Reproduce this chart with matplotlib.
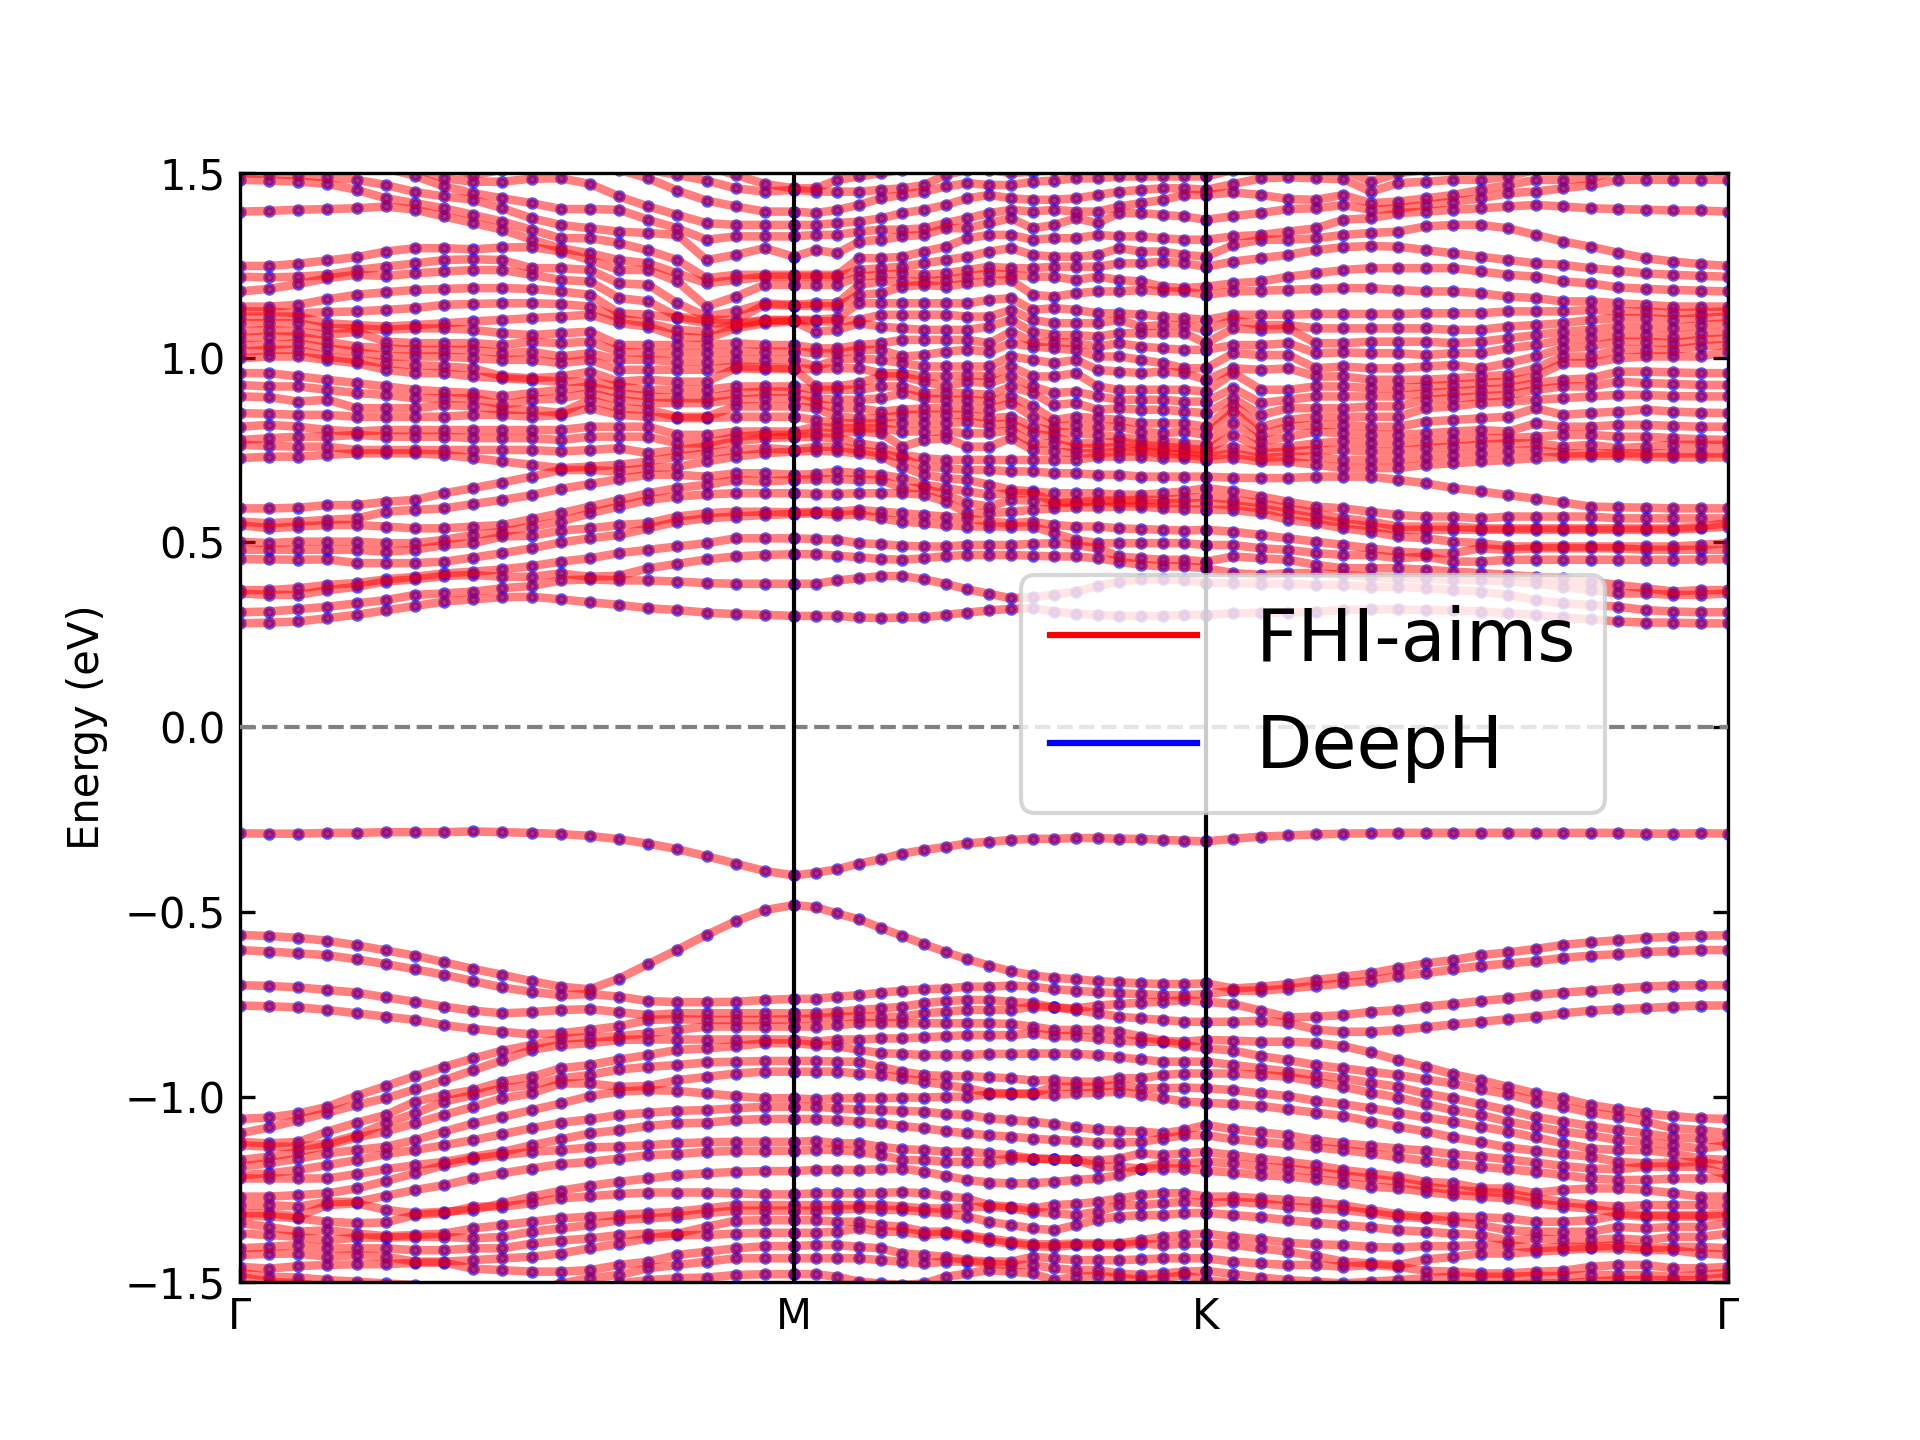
import matplotlib
matplotlib.use('Agg')
import matplotlib.pyplot as plt
import numpy as np
from matplotlib.lines import Line2D

# High symmetry points along the path
hsym_pos = [0.0, 0.3723, 0.6492, 1.0]
hsym_labels = ['Γ', 'M', 'K', 'Γ']
n_seg = 20  # k-points per segment

# Valence bands, meV below the Fermi level. Gamma-M, one row per band
val_gm = [
    [287,288,288,286,286,284,284,284,282,284,286,289,294,303,315,330,349,369,389,401],
    [562,565,570,578,590,604,618,636,654,670,687,702,709,680,641,602,562,525,495,481],
    [603,607,612,617,628,641,655,670,687,704,716,725,722,729,741,744,744,743,738,735],
    [698,700,704,711,718,731,743,756,767,774,771,765,763,771,779,774,774,774,774,774],
    [753,755,758,765,774,783,792,806,816,824,831,828,819,809,792,790,792,792,792,790],
    [1060,1056,1045,1027,997,971,944,919,896,875,860,842,839,836,828,819,810,810,810,810],
    [1099,1083,1063,1043,1022,1004,980,955,928,901,873,860,855,846,845,845,845,845,845,845],
    [1122,1126,1122,1094,1070,1049,1013,995,982,959,946,923,914,899,887,873,869,863,855,855],
    [1131,1135,1135,1126,1104,1072,1045,1013,995,977,968,950,941,926,919,914,907,905,903,903],
    [1171,1162,1149,1131,1110,1094,1072,1049,1027,1004,991,964,964,973,971,955,946,937,932,932],
    [1189,1180,1167,1153,1144,1135,1117,1094,1072,1054,1036,1018,998,986,982,984,991,998,1004,1004],
    [1212,1207,1198,1185,1171,1155,1144,1131,1117,1101,1085,1070,1061,1049,1043,1038,1036,1031,1027,1027],
    [1221,1221,1221,1221,1209,1196,1185,1176,1162,1149,1131,1115,1099,1090,1079,1072,1070,1063,1060,1060],
    [1270,1270,1266,1261,1248,1228,1207,1185,1168,1158,1149,1144,1137,1135,1131,1126,1123,1122,1122,1122],
    [1293,1293,1297,1284,1284,1268,1252,1239,1221,1207,1194,1182,1176,1167,1158,1155,1149,1146,1146,1146],
    [1315,1315,1324,1293,1288,1306,1315,1311,1306,1288,1270,1254,1241,1230,1221,1212,1207,1203,1201,1201],
    [1323,1323,1329,1338,1342,1340,1320,1315,1297,1297,1288,1275,1269,1263,1259,1259,1259,1261,1264,1264],
    [1342,1352,1365,1361,1370,1377,1374,1370,1356,1347,1338,1329,1324,1320,1315,1311,1302,1293,1293,1293],
    [1370,1374,1379,1388,1381,1381,1379,1379,1383,1379,1365,1356,1347,1334,1329,1324,1315,1308,1308,1308],
    [1410,1406,1401,1410,1410,1410,1415,1415,1410,1410,1397,1389,1383,1374,1370,1370,1352,1335,1334,1334],
    [1428,1425,1424,1433,1428,1433,1446,1446,1442,1437,1433,1424,1410,1397,1383,1374,1374,1370,1368,1368],
    [1460,1465,1458,1455,1453,1453,1449,1449,1465,1469,1473,1473,1469,1455,1446,1428,1419,1410,1404,1404],
    [1476,1487,1489,1496,1500,1505,1509,1514,1523,1527,1523,1505,1491,1482,1464,1455,1446,1437,1437,1437],
    [1487,1500,1505,1514,1523,1532,1541,1550,1559,1568,1568,1550,1532,1505,1496,1491,1489,1482,1480,1480],
]

# M-K: two top bands as rows, the remaining ones listed per k-point
val_mk_top = [
    [401,394,384,369,357,342,332,324,314,310,305,302,302,300,300,302,302,305,307,309],
    [481,487,504,520,543,565,587,608,628,645,660,671,678,682,687,690,693,695,695,693],
]
val_mk_cols = [
    [735,774,790,810,845,855,903,932,1004,1027,1060,1122,1146,1201,1264,1293,1308,1334,1368,1404,1437,1480],
    [735,774,788,810,851,860,903,932,1007,1027,1060,1119,1144,1198,1261,1293,1308,1334,1368,1401,1437,1480],
    [729,770,783,806,845,863,905,932,1004,1031,1063,1126,1144,1198,1261,1293,1306,1338,1365,1401,1437,1487],
    [725,765,783,801,845,873,905,937,1004,1034,1067,1126,1149,1198,1261,1293,1302,1338,1356,1406,1437,1500],
    [718,761,783,801,842,882,919,941,1004,1036,1072,1135,1158,1196,1260,1293,1306,1347,1365,1410,1442,1505],
    [713,756,783,801,842,884,932,950,1002,1038,1079,1142,1171,1194,1258,1297,1306,1352,1365,1424,1446,1509],
    [709,747,774,801,839,887,941,959,1002,1040,1085,1144,1171,1203,1261,1302,1311,1365,1374,1428,1451,1505],
    [707,741,770,801,836,887,944,968,1000,1047,1093,1149,1176,1214,1269,1302,1315,1365,1370,1433,1446,1487],
    [702,738,765,801,833,887,944,977,1000,1049,1099,1149,1176,1225,1275,1299,1324,1374,1379,1442,1446,1478],
    [702,738,765,801,833,884,947,989,993,1058,1104,1153,1176,1232,1293,1297,1338,1383,1390,1446,1451,1469],
    [699,743,765,803,833,884,950,991,993,1063,1108,1158,1167,1234,1297,1302,1347,1392,1397,1446,1455,1473],
    [702,747,756,810,828,883,956,991,993,1067,1113,1167,1167,1234,1302,1311,1356,1399,1404,1433,1455,1478],
    [709,758,758,819,836,883,955,973,995,1074,1117,1169,1169,1230,1293,1315,1361,1399,1406,1437,1464,1496],
    [713,761,765,819,836,884,959,973,991,1083,1119,1171,1171,1225,1290,1320,1347,1397,1401,1442,1469,1487],
    [717,753,774,819,842,887,959,973,989,1088,1124,1173,1189,1221,1284,1311,1332,1397,1401,1442,1469,1485],
    [720,749,783,824,848,893,950,968,986,1092,1124,1167,1189,1212,1275,1293,1324,1397,1401,1442,1478,1489],
    [722,745,788,837,851,899,950,977,995,1094,1122,1153,1194,1194,1266,1293,1320,1388,1397,1440,1482,1496],
    [725,743,792,848,851,905,941,977,1004,1099,1113,1158,1180,1194,1261,1288,1320,1379,1401,1437,1478,1491],
    [725,738,797,851,860,905,937,975,1013,1090,1104,1153,1180,1194,1261,1284,1315,1374,1397,1437,1473,1482],
    [722,743,797,846,869,905,937,977,1016,1076,1104,1149,1176,1200,1270,1288,1314,1370,1397,1437,1471,1496],
]

# K-Gamma
val_kg_top = [[309,302,296,293,290,288,287,286,286,286,286,286,286,286,286,286,288,288,287,288]]
val_kg_cols = [
    [693,722,743,797,846,869,905,937,977,1016,1076,1104,1149,1176,1200,1270,1288,1314,1370,1397,1437,1471,1496],
    [707,713,749,797,848,875,914,937,982,1020,1088,1115,1158,1180,1205,1270,1284,1320,1379,1401,1446,1480,1505],
    [702,713,767,794,851,890,923,941,991,1025,1096,1122,1167,1189,1212,1275,1288,1326,1386,1410,1451,1489,1514],
    [695,707,785,800,851,901,932,946,998,1034,1104,1129,1176,1194,1216,1279,1297,1334,1395,1419,1455,1496,1523],
    [684,700,783,818,854,914,941,959,1011,1043,1117,1137,1185,1203,1223,1284,1302,1341,1399,1431,1455,1500,1527],
    [675,693,779,824,863,923,950,973,1020,1052,1126,1144,1198,1212,1232,1293,1306,1347,1401,1446,1460,1505,1532],
    [666,686,770,824,880,932,962,989,1031,1067,1133,1153,1207,1221,1243,1306,1315,1353,1406,1451,1455,1500,1532],
    [652,673,765,819,901,941,973,1002,1043,1081,1140,1164,1216,1230,1248,1318,1324,1361,1408,1455,1460,1496,1527],
    [639,666,756,812,919,953,991,1020,1056,1094,1146,1173,1230,1243,1257,1324,1329,1365,1404,1440,1471,1491,1523],
    [630,655,749,804,939,964,1004,1036,1067,1110,1155,1182,1234,1252,1266,1324,1338,1370,1404,1433,1473,1487,1518],
    [617,646,741,797,955,980,1020,1049,1081,1123,1162,1189,1248,1257,1270,1326,1347,1374,1401,1424,1478,1487,1514],
    [609,639,734,790,973,993,1036,1067,1094,1137,1169,1196,1248,1261,1275,1329,1361,1389,1401,1424,1478,1487,1509],
    [600,633,725,783,991,1013,1054,1081,1110,1146,1178,1203,1260,1275,1288,1338,1365,1383,1410,1419,1473,1485,1505],
    [589,624,718,774,1004,1027,1067,1094,1126,1155,1187,1212,1252,1284,1297,1338,1365,1388,1406,1415,1471,1485,1505],
    [582,618,713,767,1022,1043,1079,1104,1140,1162,1194,1221,1248,1293,1302,1334,1365,1388,1406,1410,1460,1482,1500],
    [576,614,707,763,1034,1054,1090,1117,1144,1176,1196,1225,1248,1297,1315,1320,1352,1383,1401,1410,1455,1482,1496],
    [570,608,702,760,1045,1067,1099,1122,1144,1180,1189,1225,1252,1293,1320,1324,1356,1388,1410,1415,1455,1482,1496],
    [567,606,699,756,1052,1085,1110,1131,1153,1178,1189,1221,1261,1293,1320,1324,1352,1379,1406,1415,1464,1487,1496],
    [564,603,698,753,1058,1090,1113,1140,1167,1176,1189,1221,1270,1293,1320,1324,1352,1379,1406,1424,1464,1482,1496],
    [563,603,698,753,1060,1099,1122,1131,1171,1189,1212,1221,1270,1293,1315,1323,1342,1370,1410,1428,1460,1476,1487],
]

# Lowest conduction bands, meV above the Fermi level, one row per band
cond_gm = [
    [281,283,286,295,304,316,328,340,346,352,353,346,338,331,322,317,310,306,304,301],
    [311,313,319,326,335,344,358,362,367,376,382,397,400,397,397,394,390,388,388,388],
    [362,358,358,371,380,394,400,409,412,407,407,416,407,410,430,442,454,462,466,468],
    [371,371,376,385,390,400,407,416,421,427,436,448,457,471,480,489,498,511,511,511],
    [455,454,453,454,444,444,444,448,459,471,484,500,511,520,538,556,565,570,574,577],
    [480,480,480,480,480,475,480,493,498,516,518,532,538,547,552,570,579,583,583,581],
    [502,498,502,502,502,498,498,507,520,529,543,556,579,597,615,624,630,633,633,633],
    [547,538,543,547,547,543,538,538,543,547,563,579,597,615,633,647,656,669,665,669],
    [556,552,556,561,565,583,588,592,604,615,628,645,658,671,683,683,678,687,687,683],
    [592,592,594,601,601,610,615,633,647,662,678,696,696,692,701,705,719,732,741,746],
    [728,732,732,737,741,741,741,737,728,719,710,701,705,710,719,732,741,750,755,750],
    [764,761,759,759,750,750,750,750,750,750,750,746,750,755,741,750,759,773,782,785],
]
cond_mk = [
    [301,301,301,297,295,297,297,304,310,316,320,322,313,307,304,301,301,301,304,304],
    [388,388,397,403,409,409,400,388,373,361,349,352,358,367,382,394,400,400,397,391],
    [468,468,464,460,455,453,457,463,466,466,466,464,462,462,457,448,439,435,435,430],
    [511,509,507,498,495,491,489,489,493,493,493,496,498,493,484,462,457,453,453,448],
    [577,579,574,576,565,556,552,547,543,543,543,543,525,507,498,498,498,498,498,493],
    [581,583,583,588,583,579,574,570,565,556,552,556,547,543,543,538,536,534,532,534],
    [633,631,631,633,633,633,629,610,579,579,583,588,592,595,595,597,597,592,590,588],
    [669,671,671,669,669,647,647,629,606,597,615,613,606,608,610,608,606,606,606,606],
    [683,685,692,687,683,674,656,647,638,629,633,633,610,610,613,613,615,615,619,624],
    [746,748,746,741,732,705,683,674,669,656,642,638,633,633,633,629,629,633,638,647],
    [750,759,759,750,741,728,705,701,696,696,692,692,687,687,683,683,678,678,678,678],
    [785,785,782,768,759,737,728,723,723,723,723,723,723,723,732,732,732,728,728,723],
]
cond_kg = [
    [304,308,310,310,313,317,319,319,317,316,313,308,304,297,292,286,283,283,281,281],
    [391,390,388,388,385,385,380,380,376,371,367,358,344,335,331,326,317,313,311,311],
    [430,417,412,417,417,412,407,403,403,398,398,394,389,380,371,362,362,358,358,362],
    [448,462,457,453,439,430,430,430,426,421,417,412,407,403,394,385,376,367,371,371],
    [493,493,484,480,471,466,466,457,462,448,448,453,453,453,453,453,453,453,454,455],
    [534,529,520,511,502,493,484,475,471,471,484,480,484,484,484,484,480,480,480,480],
    [588,588,579,561,552,538,529,516,511,502,498,489,489,489,489,489,489,489,493,498],
    [606,601,592,579,565,552,543,534,534,534,534,534,534,534,534,534,534,534,538,543],
    [624,615,606,592,579,565,556,543,543,543,538,538,538,538,538,538,538,538,543,552],
    [647,638,624,610,597,592,583,574,570,570,565,570,570,570,570,565,565,565,565,565],
    [678,675,674,674,678,678,678,669,660,647,638,628,618,608,597,595,594,592,592,592],
]

# Upper conduction bands on Gamma-M, highest band first
upper_gm_top = [
    [1760,1742,1724,1706,1688,1670,1652,1634,1616,1598,1585,1571,1562,1553,1544,1535,1517,1494,1470,1458],
    [1706,1688,1670,1652,1634,1616,1598,1585,1571,1562,1553,1544,1535,1521,1508,1494,1479,1458,1449,1454],
    [1625,1616,1607,1598,1589,1580,1571,1517,1494,1508,1526,1540,1526,1508,1485,1452,1425,1409,1395,1395],
    [1598,1585,1571,1562,1549,1535,1512,1485,1476,1476,1484,1485,1470,1436,1409,1386,1364,1359,1359,1359],
    [1549,1544,1540,1535,1526,1512,1492,1463,1445,1431,1418,1402,1402,1400,1373,1350,1319,1328,1328,1328],
    [1499,1497,1494,1488,1481,1467,1448,1436,1427,1404,1377,1359,1350,1341,1337,1332,1264,1278,1296,1273],
    [1481,1479,1476,1470,1454,1431,1418,1404,1386,1368,1346,1323,1323,1310,1290,1264,1215,1224,1224,1224],
    [1395,1397,1400,1402,1404,1409,1400,1382,1364,1346,1319,1296,1282,1264,1255,1228,1201,1210,1219,1219],
    [1248,1248,1254,1263,1272,1287,1296,1296,1293,1298,1299,1287,1264,1237,1237,1206,1138,1165,1197,1197],
    [1219,1217,1219,1224,1237,1246,1255,1264,1266,1264,1242,1242,1237,1201,1197,1147,1111,1125,1147,1143],
    [1179,1186,1199,1215,1224,1221,1228,1233,1237,1237,1224,1210,1206,1161,1152,1111,1102,1102,1143,1140],
]
# The dense bundle below them, listed per k-point
upper_gm_cols = [
    [1138,1125,1111,1093,1070,1052,1034,1016,998,958,926,895,850,813,777],
    [1138,1125,1111,1093,1075,1057,1034,1021,1003,958,922,893,848,818,782],
    [1143,1120,1111,1093,1070,1057,1039,1021,1003,949,922,881,845,813,786],
    [1158,1123,1093,1079,1061,1043,1025,1003,994,940,913,886,845,804,786],
    [1170,1125,1088,1079,1070,1030,1016,994,985,931,904,863,840,800,791],
    [1177,1129,1084,1075,1043,1025,1003,985,967,922,899,863,840,804,786],
    [1183,1134,1088,1079,1039,1021,1003,980,958,913,890,863,840,804,786],
    [1186,1143,1093,1079,1039,1021,1003,976,958,908,890,872,840,804,786],
    [1188,1145,1098,1075,1039,1021,998,971,949,904,890,868,845,804,782],
    [1188,1147,1102,1066,1034,1012,994,949,944,895,872,859,845,804,782],
    [1186,1147,1107,1061,1043,1016,994,944,940,904,886,859,840,804,782],
    [1179,1145,1111,1066,1039,1003,985,949,935,913,890,850,845,804,777],
    [1170,1138,1116,1070,1043,1012,994,962,935,922,904,886,863,813,786],
    [1120,1107,1093,1034,1016,994,967,935,922,904,886,863,845,813,786],
    [1116,1093,1084,1034,1012,994,967,940,913,895,877,859,840,813,786],
    [1107,1075,1057,1034,1012,989,967,935,913,890,877,840,836,791,768],
    [1093,1070,1052,1034,1012,989,967,935,913,890,877,840,836,791,768],
    [1093,1088,1079,1039,1016,994,976,971,922,904,886,868,840,800,786],
    [1102,1100,1093,1034,1016,994,974,969,922,908,890,868,840,800,791],
    [1102,1100,1098,1034,1016,994,971,969,922,908,890,868,840,800,791],
]
# M-K and K-Gamma, per k-point, highest band first
upper_mk_cols = [
    [1458,1454,1395,1359,1328,1273,1224,1219,1197,1143,1140,1102,1100,1098,1034,1016,994,971,969,922,908,890,868,840,800,791],
    [1458,1449,1391,1359,1332,1291,1224,1219,1197,1147,1140,1102,1098,1070,1025,1012,976,969,922,913,890,877,863,831,813,797],
    [1481,1449,1400,1364,1332,1282,1224,1219,1197,1147,1138,1107,1098,1075,1025,1012,994,971,922,913,886,863,840,822,809,795],
    [1490,1449,1413,1368,1341,1314,1269,1237,1219,1197,1170,1147,1102,1093,1034,1021,998,971,931,913,886,863,836,822,809,800],
    [1499,1454,1431,1377,1346,1319,1269,1242,1224,1206,1174,1147,1116,1084,1039,1021,994,958,949,922,890,854,836,822,809,795],
    [1508,1458,1440,1391,1346,1328,1273,1246,1228,1206,1192,1147,1116,1079,1048,1003,985,958,949,922,904,859,845,822,800,759],
    [1517,1467,1449,1400,1350,1332,1287,1255,1224,1206,1197,1147,1116,1075,1048,1007,976,949,935,904,890,863,845,822,800,777],
    [1530,1494,1463,1413,1364,1350,1300,1264,1228,1210,1192,1147,1116,1075,1048,1016,976,949,922,904,886,863,845,822,800,782],
    [1544,1508,1472,1431,1377,1350,1323,1273,1237,1219,1201,1147,1111,1075,1048,1021,976,953,935,904,886,863,845,827,795,759],
    [1549,1508,1467,1440,1391,1364,1332,1287,1246,1228,1206,1156,1111,1084,1039,1016,976,949,931,899,881,859,836,818,795,759],
    [1553,1499,1467,1431,1400,1377,1332,1296,1242,1224,1210,1161,1129,1102,1070,1039,1003,976,949,922,895,877,840,822,804,782],
    [1558,1503,1476,1427,1395,1350,1319,1278,1242,1219,1170,1129,1102,1070,1043,1030,994,949,922,904,868,840,813,795,768,750],
    [1558,1508,1479,1427,1400,1359,1323,1273,1246,1219,1165,1134,1093,1061,1043,1025,985,949,904,872,831,813,800,786,768,746],
    [1558,1508,1485,1431,1395,1377,1323,1273,1246,1210,1174,1129,1093,1061,1039,1021,994,958,908,877,840,818,795,768,755,741],
    [1558,1512,1485,1440,1395,1364,1332,1278,1246,1219,1179,1120,1093,1057,1030,1003,967,922,895,859,836,813,791,768,755,741],
    [1558,1517,1490,1449,1409,1391,1328,1296,1255,1210,1179,1120,1102,1066,1039,1003,962,913,886,863,831,813,786,773,759,746],
    [1558,1517,1490,1454,1418,1391,1328,1287,1255,1206,1183,1116,1084,1066,1030,994,958,913,886,859,822,800,777,764,755,746],
    [1558,1521,1490,1458,1427,1386,1323,1287,1260,1192,1179,1111,1088,1066,1025,985,962,913,886,859,822,795,773,759,750,741],
    [1558,1521,1490,1458,1440,1382,1319,1278,1255,1188,1179,1107,1088,1066,1021,971,958,913,881,854,822,800,768,755,746,737],
    [1558,1526,1490,1454,1440,1373,1319,1273,1246,1192,1170,1102,1075,1039,1021,971,940,908,881,850,813,791,764,750,741,732],
]
upper_kg_cols = [
    [1558,1526,1490,1454,1440,1373,1319,1273,1246,1192,1170,1102,1075,1039,1021,971,940,908,881,850,813,791,764,750,741,732,723],
    [1553,1530,1508,1470,1447,1383,1328,1305,1260,1201,1179,1116,1102,1079,1034,1012,971,958,917,890,872,854,822,791,759,741,728],
    [1567,1535,1512,1485,1440,1391,1332,1319,1269,1206,1181,1116,1088,1075,1034,1007,967,913,877,845,813,791,773,755,741,728,719],
    [1567,1540,1517,1488,1429,1402,1341,1319,1278,1219,1183,1116,1088,1079,1039,1007,971,913,886,863,831,813,786,759,746,732,719],
    [1567,1544,1521,1485,1427,1404,1350,1323,1291,1228,1186,1118,1079,1039,1012,971,949,922,895,863,840,818,800,768,750,732,710],
    [1567,1549,1508,1483,1440,1413,1373,1332,1299,1237,1188,1118,1079,1039,1014,976,949,922,895,863,840,818,795,773,750,723,701],
    [1567,1553,1476,1449,1418,1400,1377,1337,1302,1242,1188,1118,1079,1043,1012,971,940,917,895,868,840,813,791,768,746,723,701],
    [1567,1558,1499,1472,1422,1404,1391,1341,1300,1242,1183,1118,1079,1043,1012,971,940,917,895,868,840,813,791,768,746,723,701],
    [1567,1562,1508,1476,1431,1413,1395,1355,1291,1242,1179,1120,1079,1043,1007,976,940,922,904,886,863,827,795,773,755,732,710],
    [1567,1562,1512,1481,1440,1422,1400,1359,1282,1242,1179,1120,1075,1039,1012,980,944,926,908,890,868,831,800,777,759,737,714],
    [1567,1562,1517,1481,1454,1431,1404,1359,1273,1233,1174,1120,1075,1043,1012,971,949,931,913,895,877,836,804,782,764,741,719],
    [1567,1558,1521,1490,1467,1445,1409,1350,1264,1224,1165,1125,1084,1052,1025,985,953,935,917,899,881,840,800,782,768,746,723],
    [1567,1558,1526,1508,1481,1449,1413,1332,1255,1219,1161,1125,1088,1061,1034,1003,971,949,931,913,886,863,822,786,768,750,728],
    [1567,1558,1535,1517,1481,1458,1409,1314,1251,1206,1152,1125,1093,1070,1048,1025,1003,985,940,922,890,845,813,791,759,741,732],
    [1567,1558,1540,1521,1485,1467,1404,1300,1242,1201,1152,1129,1102,1075,1052,1030,1003,985,944,922,895,850,813,791,764,741,734],
    [1567,1558,1544,1530,1508,1481,1402,1284,1235,1190,1147,1125,1107,1084,1061,1043,1021,998,962,935,899,854,818,786,755,741,734],
    [1567,1558,1549,1535,1508,1481,1400,1269,1228,1186,1143,1125,1107,1084,1061,1043,1021,1003,962,931,899,859,818,786,759,741,732],
    [1567,1558,1553,1544,1517,1481,1398,1260,1224,1183,1138,1120,1102,1079,1057,1039,1021,1003,960,929,896,854,815,782,764,741,730],
    [1567,1562,1558,1549,1526,1481,1398,1253,1221,1181,1138,1122,1107,1088,1066,1048,1030,1003,958,926,895,851,813,779,764,741,730],
    [1585,1580,1571,1562,1535,1481,1395,1248,1219,1179,1138,1125,1111,1093,1070,1052,1034,1016,958,926,895,850,813,777,764,741,730],
]

# k-axis, one run of points per segment with the end points repeated
k_path = np.concatenate([
    np.linspace(hsym_pos[i], hsym_pos[i + 1], n_seg) for i in range(3)
])

# Assemble valence bands (energies below the Fermi level are negative)
valence = -np.hstack([
    np.array(val_gm),
    np.vstack([val_mk_top, np.array(val_mk_cols).T]),
    np.vstack([val_kg_top, np.array(val_kg_cols).T]),
]) / 1000.0

# Assemble conduction bands from the bottom up
upper_gm = np.vstack([upper_gm_top, np.array(upper_gm_cols).T])[::-1]
upper_mk = np.array(upper_mk_cols).T[::-1]
upper_kg = np.array(upper_kg_cols).T[::-1]
conduction = np.hstack([
    np.vstack([cond_gm, upper_gm]),
    np.vstack([cond_mk, upper_mk]),
    np.vstack([cond_kg, upper_kg]),
]) / 1000.0

bands = np.vstack([valence, conduction])

fig, ax = plt.subplots(figsize=(6.4, 4.8))

# DeepH eigenvalues as dots, FHI-aims bands as thick translucent lines on top
for band in bands:
    ax.plot(k_path, band, 'o', color='blue', ms=2, alpha=0.65, zorder=2)
for band in bands:
    ax.plot(k_path, band, color='red', lw=2.05, alpha=0.5, zorder=2.5)

ax.axhline(0, color='gray', ls='--', lw=1, zorder=3)
for pos in hsym_pos[1:-1]:
    ax.axvline(pos, color='black', lw=1, zorder=3)

ax.set_xlim(0, 1)
ax.set_ylim(-1.5, 1.5)
ax.set_xticks(hsym_pos)
ax.set_xticklabels(hsym_labels)
ax.set_yticks([-1.5, -1.0, -0.5, 0.0, 0.5, 1.0, 1.5])
ax.tick_params(direction='in', right=True)
ax.set_ylabel('Energy (eV)')

handles = [Line2D([], [], color='red', lw=1.5, label='FHI-aims'),
           Line2D([], [], color='blue', lw=1.5, label='DeepH')]
ax.legend(handles=handles, fontsize=17.6, loc='center', bbox_to_anchor=(0.721, 0.53))

fig.savefig('out.png', dpi=300)
